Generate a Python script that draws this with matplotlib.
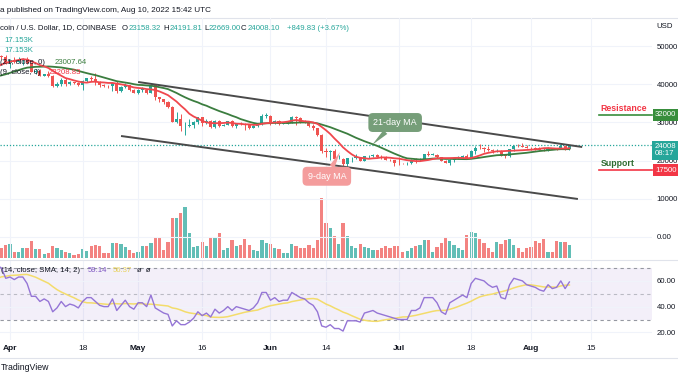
import matplotlib
matplotlib.use("Agg")
import matplotlib.pyplot as plt
import matplotlib.dates as mdates
from matplotlib.lines import Line2D
from matplotlib.transforms import blended_transform_factory
import numpy as np
import pandas as pd

W, H = 678, 381

# daily candles, 2022-03-29 .. 2022-08-10
start, end = "2022-03-29", "2022-08-10"

opens = [47130, 47455, 47078,
         45525, 46289, 45835, 46407, 46580, 45497, 43170, 43445, 42252, 42753, 42159, 39530, 40075, 41147, 39942,
         40552, 40408, 39716, 40826, 41502, 41374, 40480, 39709, 39472, 39450, 40427, 38112, 39236, 39742, 38597,
         37643, 38470, 38525, 37729, 39696, 36553, 36012, 35470, 34039, 30080, 31008, 28937, 28999, 29282, 30102,
         31307, 29862, 30425, 28716, 30297, 29180, 29430, 30316, 29098, 29653, 29539, 29201, 28626, 29026, 29468, 31728,
         31793, 29800, 30453, 29701, 29864, 29907, 31371, 31125, 30204, 30110, 29092, 28425, 26575, 22488, 22137,
         22584, 20398, 20474, 19017, 20554, 20712, 20733, 19987, 21111, 21232, 21503, 21031, 20735, 20281, 20105,
         19432, 19309, 19242, 19298, 20232, 20191, 20549, 21640, 21585, 21596, 20851, 19964, 19328, 20250, 20587,
         20826, 21195, 20791, 22430, 23396, 23232, 23163, 22685, 22452, 22580, 21313, 21253, 22953, 23849, 23775, 23635,
         23304, 23270, 22990, 22824, 22621, 23310, 23180, 23175, 23809, 23158]
highs = [48100, 47700, 47600,
         46700, 47200, 47000, 46900, 47200, 45500, 43900, 43950, 42800, 43400, 42400, 40700, 41500, 41500, 40850,
         40700, 40600, 41100, 41750, 42200, 42950, 40800, 39950, 39900, 40600, 40800, 39450, 40350, 39900, 38800,
         38650, 39150, 38650, 39980, 39850, 36650, 36100, 35500, 34250, 32650, 32150, 30050, 30950, 30300, 31450,
         31350, 31000, 30650, 30500, 30750, 29600, 30450, 30650, 29800, 30200, 29850, 29350, 29200, 29550, 32200, 32400,
         31950, 30650, 30700, 29950, 30150, 31750, 31550, 31350, 30700, 30350, 29450, 28550, 26900, 23350, 22750,
         22950, 21350, 20750, 20750, 21000, 21700, 20850, 21200, 21500, 21600, 21850, 21500, 21200, 20400, 20150,
         20900, 19450, 19650, 20350, 20750, 20650, 21850, 22500, 21950, 21600, 20900, 20050, 20300, 20900, 21200,
         21550, 21650, 22750, 23750, 24250, 23450, 23750, 22950, 23000, 22650, 21550, 23050, 24150, 24450, 24650, 24200,
         23500, 23450, 23650, 23200, 23450, 23350, 23400, 24250, 23950, 24192]
lows = [46950, 46600, 45200,
        44200, 45600, 45500, 45100, 45400, 43100, 42700, 42100, 42100, 41900, 39200, 39200, 39550, 39550, 39800,
        40000, 39550, 38550, 40550, 40850, 39750, 39200, 39300, 39000, 38200, 37700, 37900, 38900, 38200, 37600,
        37400, 38050, 37500, 37600, 35800, 35300, 34750, 33700, 30050, 29750, 27700, 26700, 28750, 28650, 29500,
        29100, 29450, 28650, 28650, 28750, 28950, 29250, 28900, 28600, 29350, 28000, 28300, 28500, 28800, 29300, 31250,
        29350, 29600, 29300, 29500, 29500, 29850, 29250, 29850, 29950, 28850, 28100, 26550, 21950, 20850, 20100,
        20250, 20300, 17600, 17950, 19650, 20350, 19800, 19900, 20750, 20950, 20950, 20500, 20200, 19850, 18650,
        18950, 18980, 18800, 19050, 19300, 19800, 20250, 21200, 21350, 20650, 19900, 19250, 18900, 19650, 20400,
        20500, 20750, 20750, 21600, 23000, 22350, 22600, 21950, 22250, 21250, 20700, 21050, 22600, 23450, 23500, 23250,
        22850, 22650, 22700, 22450, 22600, 22950, 22850, 23150, 22900, 22669]
closes = [47455, 47078, 45525,
          46289, 45835, 46407, 46580, 45497, 43170, 43445, 42252, 42753, 42159, 39530, 40075, 41147, 39942, 40552,
          40408, 39716, 40826, 41502, 41374, 40480, 39709, 39472, 39450, 40427, 38112, 39236, 39742, 38597, 37643,
          38470, 38525, 37729, 39696, 36553, 36012, 35470, 34039, 30080, 31008, 28937, 28999, 29282, 30102, 31307,
          29862, 30425, 28716, 30297, 29180, 29430, 30316, 29098, 29653, 29539, 29201, 28626, 29026, 29468, 31728, 31793,
          29800, 30453, 29701, 29864, 29907, 31371, 31125, 30204, 30110, 29092, 28425, 26575, 22488, 22137, 22584,
          20398, 20474, 19017, 20554, 20712, 20733, 19987, 21111, 21232, 21503, 21031, 20735, 20281, 20105, 19432,
          19309, 19242, 19298, 20232, 20191, 20549, 21640, 21585, 21596, 20851, 19964, 19328, 20250, 20587, 20826,
          21195, 20791, 22430, 23396, 23232, 23163, 22685, 22452, 22580, 21313, 21253, 22953, 23849, 23775, 23635, 23304,
          23270, 22990, 22824, 22621, 23310, 23180, 23175, 23809, 23158, 24008.10]
# volume in thousands
volumes = [14.5, 13.2, 17.2,
           18.5, 7.9, 7.9, 13.2, 13.2, 22.4, 11.9, 11.9, 5.3, 6.6, 15.8, 13.2, 10.6, 7.9, 6.6,
           4.0, 5.3, 11.9, 9.2, 15.8, 17.2, 15.8, 6.6, 6.6, 19.8, 19.8, 18.5, 14.5, 10.6, 6.6,
           7.9, 15.8, 15.8, 19.8, 27.7, 27.7, 10.6, 21.1, 52.8, 52.8, 59.4, 67.3, 33.0, 14.5, 15.8,
           21.1, 15.8, 27.7, 27.7, 33.0, 10.6, 13.2, 23.8, 15.8, 17.2, 25.1, 17.2, 10.6, 9.2, 23.8, 19.8,
           18.5, 13.2, 11.9, 6.6, 6.6, 18.5, 15.8, 13.2, 13.2, 17.2, 13.2, 23.8, 79.2, 46.2, 39.6,
           29.0, 18.5, 46.2, 29.0, 15.8, 13.2, 18.5, 14.5, 13.2, 10.6, 10.6, 13.2, 15.8, 13.2, 15.8,
           15.8, 7.9, 9.2, 13.2, 15.8, 17.2, 23.8, 23.8, 7.9, 14.5, 19.8, 26.4, 22.4, 17.2, 13.2,
           10.6, 30.4, 34.3, 33.0, 25.1, 19.8, 13.2, 7.9, 21.1, 18.5, 23.8, 25.1, 17.2, 13.2, 7.9, 13.2,
           14.5, 22.4, 19.8, 25.1, 7.9, 7.9, 22.4, 21.1, 21.1, 17.153]
rsi = [72, 70, 62,
       63, 61, 63, 63, 58, 48, 48, 44, 46, 44, 36, 39, 44, 40, 42,
       41, 39, 44, 47, 47, 44, 41, 40, 40, 46, 37, 41, 45, 40, 38,
       43, 43, 40, 49, 39, 37, 35, 34, 25, 29, 26, 26, 28, 31, 36,
       33, 35, 32, 38, 35, 37, 40, 37, 40, 39, 38, 37, 39, 43, 51, 51,
       45, 47, 44, 45, 45, 51, 49, 47, 46, 43, 41, 36, 25, 24, 26,
       23, 23, 21, 29, 29, 29, 28, 35, 36, 37, 35, 34, 33, 32, 31,
       30, 30, 30, 37, 37, 39, 47, 47, 47, 43, 36, 34, 43, 45, 47,
       49, 47, 58, 62, 61, 60, 57, 55, 56, 47, 46, 57, 62, 61, 60, 57,
       56, 55, 53, 52, 57, 54, 55, 60, 54, 59.14]

# earlier closes / rsi so the averages exist from the first visible day
closes_before = [41950, 39440, 38730, 38810, 37780, 39670, 39280, 41120, 40920, 41770,
                 42200, 41260, 41000, 42360, 42890, 43960, 44350, 44500, 46820, 47130]
rsi_before = [52, 56, 55, 58, 60, 58, 57, 62, 64, 66, 67, 67, 72]

resistance = 32000
support = 17500
upper_line = (["2022-05-01", "2022-08-13"], [40580, 23560])
lower_line = (["2022-04-27", "2022-08-12"], [26440, 9950])

tick_dates = ["2022-04-01", "2022-04-18", "2022-05-01", "2022-05-16", "2022-06-01",
              "2022-06-14", "2022-07-01", "2022-07-18", "2022-08-01", "2022-08-15"]
tick_labels = ["Apr", "18", "May", "16", "Jun", "14", "Jul", "18", "Aug", "15"]
price_ticks = [0, 10000, 20000, 30000, 40000, 50000]
rsi_ticks = [20, 40, 60]

n = len(closes)
for name, arr in [("opens", opens), ("highs", highs), ("lows", lows), ("volumes", volumes), ("rsi", rsi)]:
    if len(arr) != n:
        raise ValueError(f"{name} has {len(arr)} values, closes has {n}")

plt.rcParams['font.family'] = ['Liberation Sans', 'DejaVu Sans']

TEAL = '#26a69a'
RED = '#ef5350'
DARK = '#131722'
GRID = '#f0f3fa'

dates = pd.date_range(start, end)
x = mdates.date2num(dates)
o, hi, lo, c = map(np.array, (opens, highs, lows, closes))
up = c >= o
cols = np.where(up, TEAL, RED)

all_c = pd.Series(closes_before + closes)
ma21 = all_c.rolling(21).mean().values[-n:]
ma9 = all_c.rolling(9).mean().values[-n:]
rsi_ma = pd.Series(rsi_before + rsi).rolling(14).mean().values[-n:]

fig = plt.figure(figsize=(W / 100, H / 100), dpi=100)
fig.patch.set_facecolor('white')

def rect(top, bottom, right=652):
    return [0, 1 - bottom / H, right / W, (bottom - top) / H]

ax = fig.add_axes(rect(18, 259))
axv = ax.twinx()
ax_r = fig.add_axes(rect(261, 340), sharex=ax)

x0 = mdates.date2num(pd.Timestamp("2022-04-01")) - 10 / 4.27
ax.set_xlim(x0, x0 + 652 / 4.27)
ax.set_ylim(-5760, 57330)
axv.set_ylim(-1.32, 316.8)
ax_r.set_ylim(14.08, 75.44)

ax.set_zorder(2)
ax.patch.set_visible(False)
axv.set_zorder(1)

tick_x = mdates.date2num(pd.to_datetime(tick_dates))
for a in (ax, axv, ax_r):
    for s in a.spines.values():
        s.set_visible(False)
for t in tick_x:
    ax.axvline(t, color=GRID, lw=0.8, zorder=0)
    ax_r.axvline(t, color=GRID, lw=0.8, zorder=0)
for p in price_ticks:
    ax.axhline(p, color=GRID, lw=0.8, zorder=0)

# volume
axv.bar(x, volumes, width=0.75, color=cols, alpha=0.72, lw=0)
axv.set_yticks([])

# candles
ax.vlines(x, lo, hi, colors=cols, lw=0.7, zorder=3)
ax.bar(x, np.maximum(np.abs(c - o), 150), bottom=np.minimum(o, c), width=0.72, color=cols, lw=0, zorder=4)

ax.plot(x, ma21, color='#3b7d3f', lw=1.3, zorder=5)
ax.plot(x, ma9, color='#f0474d', lw=1.3, zorder=5)

for line in (upper_line, lower_line):
    ax.plot(mdates.date2num(pd.to_datetime(line[0])), line[1], color='#4a4a4a', lw=1.4, zorder=6,
            solid_capstyle='butt')

ax.axhline(closes[-1], color=TEAL, lw=0.9, ls=(0, (1, 1.5)), zorder=1)

ax.yaxis.tick_right()
ax.set_yticks(price_ticks)
ax.set_yticklabels(['0.00'] + [str(p) for p in price_ticks[1:]])
ax.tick_params(axis='y', length=0, pad=3.2, labelsize=5.6, labelcolor=DARK)
ax.tick_params(axis='x', bottom=False, labelbottom=False)

trans = blended_transform_factory(ax.transAxes, ax.transData)
x_lvl = mdates.date2num(pd.Timestamp("2022-08-17"))
ax.plot([x_lvl, ax.get_xlim()[1]], [resistance, resistance], color='#388e3c', lw=1.2, zorder=6, clip_on=False)
ax.plot([x_lvl, ax.get_xlim()[1]], [support, support], color='#f23645', lw=1.2, zorder=6, clip_on=False)
ax.annotate("Resistance", (x_lvl, resistance), xytext=(1, 1.5), textcoords='offset points',
            color='#f23645', fontsize=6.3, fontweight='bold', va='bottom', ha='left', zorder=7)
ax.annotate("Support", (x_lvl, support), xytext=(1, 1.5), textcoords='offset points',
            color='#2e6b30', fontsize=6.3, fontweight='bold', va='bottom', ha='left', zorder=7)

box_kw = dict(transform=trans, ha='left', va='center', color='white', fontsize=5.6, clip_on=False, zorder=20)
ax.text(1 + 3 / 652, resistance, "32000", bbox=dict(boxstyle='square,pad=0.3', fc='#388e3c', ec='none'), **box_kw)
ax.text(1 + 3 / 652, support, "17500", bbox=dict(boxstyle='square,pad=0.3', fc='#f23645', ec='none'), **box_kw)
ax.annotate("24008\n08:17", (1, closes[-1]), xycoords=trans, xytext=(2.2, -3.6), textcoords='offset points',
            ha='left', va='center', color='white', fontsize=5.6, linespacing=1.0, zorder=20,
            bbox=dict(boxstyle='square,pad=0.35', fc=TEAL, ec='none'), annotation_clip=False)

# MA callouts
ax.annotate("21-day MA", xy=(mdates.date2num(pd.Timestamp("2022-06-24")) + 0.8, 24100),
            xytext=(mdates.date2num(pd.Timestamp("2022-06-30")) + 0.2, 29970),
            ha='center', va='center', color='white', fontsize=6.5, zorder=8,
            bbox=dict(boxstyle='round,pad=0.55,rounding_size=0.5', fc='#769e79', ec='none'),
            arrowprops=dict(arrowstyle='wedge,tail_width=0.6,shrink_factor=0.5', fc='#769e79', ec='none',
                            shrinkA=0, shrinkB=0))
ax.annotate("9-day MA", xy=(mdates.date2num(pd.Timestamp("2022-06-17")) + 0.3, 22250),
            xytext=(mdates.date2num(pd.Timestamp("2022-06-14")) + 0.2, 15900),
            ha='center', va='center', color='white', fontsize=6.5, zorder=8,
            bbox=dict(boxstyle='round,pad=0.55,rounding_size=0.5', fc='#f49c9c', ec='none'),
            arrowprops=dict(arrowstyle='wedge,tail_width=0.6,shrink_factor=0.5', fc='#f49c9c', ec='none',
                            shrinkA=0, shrinkB=0))

# RSI pane
ax_r.axhspan(30, 70, color='#7e57c2', alpha=0.09, lw=0, zorder=0)
for lvl, alpha in [(70, 1), (50, 0.6), (30, 1)]:
    ax_r.axhline(lvl, color='#9598a1', lw=0.8, ls=(0, (3, 3)), alpha=alpha, zorder=1)
for lvl in rsi_ticks:
    ax_r.axhline(lvl, color=GRID, lw=0.8, zorder=0)
ax_r.plot(x, rsi_ma, color='#f3dc6b', lw=1.1, zorder=3)
ax_r.plot(x, rsi, color='#9575d6', lw=1.0, zorder=4)
ax_r.yaxis.tick_right()
ax_r.set_yticks(rsi_ticks)
ax_r.set_yticklabels([f"{v:.2f}" for v in rsi_ticks])
ax_r.tick_params(axis='y', length=0, pad=3.2, labelsize=5.6, labelcolor=DARK)
ax_r.set_xticks(tick_x)
ax_r.set_xticklabels(tick_labels)
ax_r.tick_params(axis='x', length=0, pad=3.5, labelsize=6, labelcolor=DARK)
for lab, txt in zip(ax_r.get_xticklabels(), tick_labels):
    if not txt.isdigit():
        lab.set_fontweight('bold')

# header, legends, footer
def ftext(px, py, s, **kw):
    kw.setdefault('fontsize', 5.6)
    kw.setdefault('color', DARK)
    fig.text(px / W, 1 - py / H, s, va='center', ha='left', zorder=30, **kw)

ftext(0, 10, "a published on TradingView.com, Aug 10, 2022 15:42 UTC", fontsize=5.9)
ftext(0, 28, "coin / U.S. Dollar, 1D, COINBASE")
for px, letter, val in [(122, "O", "23158.32"), (163, "H", "24191.81"), (204, "L", "22669.00"), (241, "C", "24008.10")]:
    ftext(px, 28, letter)
    ftext(px + (4.5 if letter == "L" else 6.2), 28, val, color=TEAL)
ftext(287, 28, "+849.83 (+3.67%)", color=TEAL)
ftext(4, 40, "17.153K", color=TEAL)
ftext(4, 50, "17.153K", color=TEAL)
ftext(0, 62, "(21, close, 0)")
ftext(55, 62, "23007.64", color='#3b7d3f')
ftext(0, 73, "(9, close, 0)")
ftext(49, 73, "23208.83", color='#f23645')
ftext(656, 27, "USD")
ftext(1, 270, "(14, close, SMA, 14, 2)")
ftext(88, 270, "59.14", color='#7e57c2')
ftext(113, 270, "56.37", color='#e8d25a')
ftext(137, 270, "\u00f8  \u00f8")
ftext(1, 368, "TradingView", fontsize=6.3)

for py in (17.5, 259.5, 357.5):
    fig.add_artist(Line2D([0, 1], [1 - py / H] * 2, color='#e0e3eb', lw=0.8, transform=fig.transFigure))

fig.savefig("out.png", dpi=100)
